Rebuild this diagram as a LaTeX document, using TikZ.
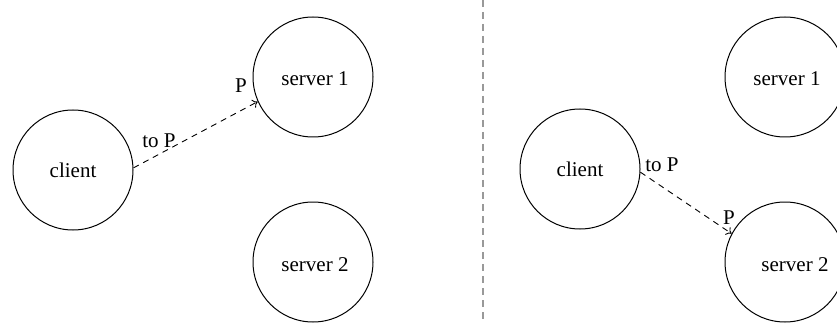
\documentclass[tikz,border=0pt]{standalone}
\usepackage{fontspec}
\setmainfont{Liberation Serif}
\usetikzlibrary{arrows.meta}
\begin{document}
\begin{tikzpicture}[x=1pt,y=-1pt,
  hostnode/.style={circle,draw,line width=1pt,minimum size=120pt,inner sep=0pt,font=\fontsize{21}{25}\selectfont},
  lbl/.style={font=\fontsize{21}{25}\selectfont,inner sep=0pt},
  msg/.style={dashed,dash pattern=on 6pt off 5pt,line width=0.9pt,-{To[length=5pt,width=9pt]}}]
\useasboundingbox (0,0) rectangle (837,323);
\clip (0,0) rectangle (837,323);
% left scenario
\node[hostnode] (cL) at (73,170) {client};
\node[hostnode] (s1L) at (313,77) {};
\node[lbl] (t1L) at (315,79) {server 1};
\node[hostnode] (s2L) at (313,262) {};
\node[lbl] (t2L) at (315,265) {server 2};
\draw[msg] (cL.2) -- (s1L.204);
\node[lbl] (toL) at (159,141) {to P};
\node[lbl] (pL) at (241,86) {P};
% separator
\coordinate (sepT) at (483,0);
\coordinate (sepB) at (483,323);
\draw[gray!80,line width=1.5pt,dash pattern=on 7pt off 5pt] (sepT) -- (sepB);
% right scenario
\node[hostnode] (cR) at (580,169) {client};
\node[hostnode] (s1R) at (785,77) {};
\node[lbl] (t1R) at (787,79) {server 1};
\node[hostnode] (s2R) at (785,262) {};
\node[lbl] (t2R) at (795,265) {server 2};
\draw[msg] (cR.-3) -- (s2R.152);
\node[lbl] (toR) at (662,165) {to P};
\node[lbl] (pR) at (729,218) {P};
\end{tikzpicture}
\end{document}
